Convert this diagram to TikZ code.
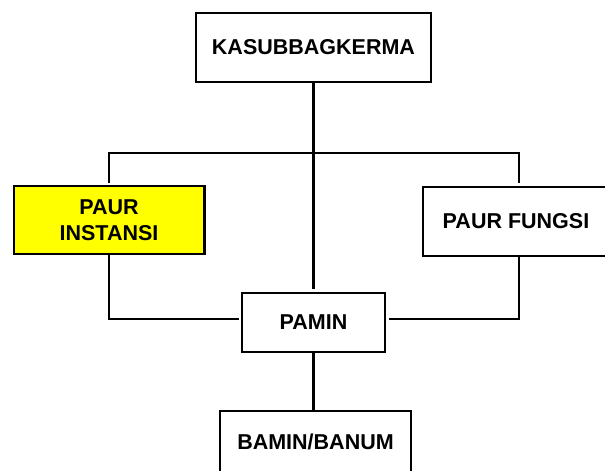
\documentclass[tikz,border=0pt]{standalone}
\usepackage{fontspec}
\setmainfont{Liberation Sans}
\begin{document}
\begin{tikzpicture}[x=1pt,y=1pt,
  unit/.style={draw=black, line width=2.4pt, fill=white, align=center,
    font=\fontsize{21.5}{26}\selectfont\bfseries, inner sep=0pt},
  link/.style={draw=black, line width=2.2pt},
  gap/.style={shorten >=2.5pt}]
  \useasboundingbox (0,0) rectangle (605,471);
  \fill[white] (0,0) rectangle (605,471);

  % units of the organisation chart
  \node[unit, minimum width=234.6pt, minimum height=68.6pt] (kasub) at (313.5,423.5) {KASUBBAGKERMA};
  \node[unit, fill={rgb,255:red,255;green,255;blue,0}, minimum width=190.6pt, minimum height=67.6pt] (pinst) at (109,251) {PAUR\\INSTANSI};
  \node[unit, minimum width=192pt, minimum height=68.6pt] (pfung) at (519,249.5) {\hspace*{-6pt}PAUR FUNGSI};
  \node[unit, minimum width=142.6pt, minimum height=58.6pt] (pamin) at (313.5,148.5) {PAMIN};
  \node[unit, minimum width=190.6pt, minimum height=62pt] (bamin) at (315.5,29) {BAMIN/BANUM};

  % junction on the horizontal bus below the head unit
  \coordinate (bus) at (314,318);

  % connectors
  \draw[link, gap] (kasub.south) -- (pamin.north);
  \draw[link, shorten <=2pt, shorten >=2.5pt] (pinst.north) |- (bus) -| (pfung.north);
  \draw[link, gap] (pinst.south) |- ([yshift=3.5pt]pamin.west);
  \draw[link, gap] (pfung.south) |- ([yshift=3.5pt]pamin.east);
  \draw[link] (pamin.south) -- (bamin.north -| pamin.south);
\end{tikzpicture}
\end{document}
